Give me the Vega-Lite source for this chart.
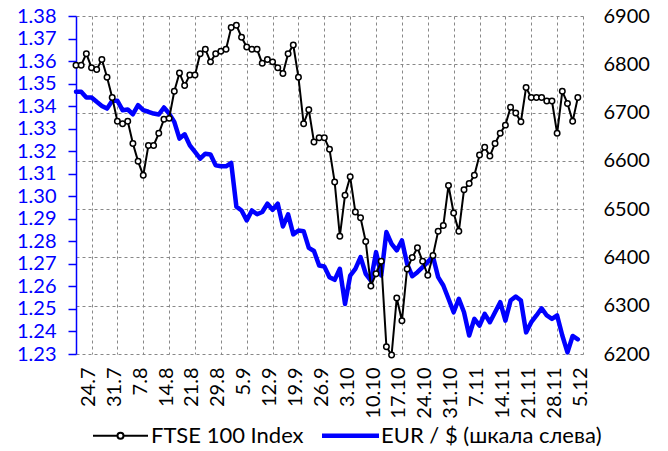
{
  "$schema": "https://vega.github.io/schema/vega-lite/v6.json",
  "width": 507,
  "height": 338,
  "autosize": {"type": "none"},
  "padding": {"left": 76, "top": 16, "right": 85, "bottom": 97},
  "background": "white",
  "config": {
    "font": "Lato",
    "view": {"stroke": null},
    "axis": {"labelFont": "Lato", "labelFontSize": 20, "title": null}
  },
  "data": {"values": [
    {"d":"21.7","ftse":6798,"eur":1.3464},
    {"d":"22.7","ftse":6798,"eur":1.3464},
    {"d":"23.7","ftse":6822,"eur":1.3438},
    {"d":"24.7","ftse":6793,"eur":1.3438},
    {"d":"25.7","ftse":6789,"eur":1.3419},
    {"d":"28.7","ftse":6810,"eur":1.3401},
    {"d":"29.7","ftse":6773,"eur":1.3389},
    {"d":"30.7","ftse":6731,"eur":1.3424},
    {"d":"31.7","ftse":6682,"eur":1.3424},
    {"d":"1.8","ftse":6677,"eur":1.3382},
    {"d":"4.8","ftse":6682,"eur":1.3385},
    {"d":"5.8","ftse":6636,"eur":1.3364},
    {"d":"6.8","ftse":6599,"eur":1.3404},
    {"d":"7.8","ftse":6570,"eur":1.3382},
    {"d":"8.8","ftse":6632,"eur":1.3375},
    {"d":"11.8","ftse":6632,"eur":1.3367},
    {"d":"12.8","ftse":6657,"eur":1.3363},
    {"d":"13.8","ftse":6686,"eur":1.3394},
    {"d":"14.8","ftse":6688,"eur":1.3367},
    {"d":"15.8","ftse":6744,"eur":1.3330},
    {"d":"18.8","ftse":6782,"eur":1.3256},
    {"d":"19.8","ftse":6756,"eur":1.3275},
    {"d":"20.8","ftse":6778,"eur":1.3226},
    {"d":"21.8","ftse":6778,"eur":1.3197},
    {"d":"22.8","ftse":6822,"eur":1.3167},
    {"d":"26.8","ftse":6831,"eur":1.3189},
    {"d":"27.8","ftse":6805,"eur":1.3185},
    {"d":"28.8","ftse":6822,"eur":1.3137},
    {"d":"29.8","ftse":6827,"eur":1.3133},
    {"d":"1.9","ftse":6831,"eur":1.3133},
    {"d":"2.9","ftse":6876,"eur":1.3148},
    {"d":"3.9","ftse":6881,"eur":1.2954},
    {"d":"4.9","ftse":6856,"eur":1.2937},
    {"d":"5.9","ftse":6836,"eur":1.2893},
    {"d":"8.9","ftse":6831,"eur":1.2937},
    {"d":"9.9","ftse":6831,"eur":1.2920},
    {"d":"10.9","ftse":6802,"eur":1.2930},
    {"d":"11.9","ftse":6810,"eur":1.2967},
    {"d":"12.9","ftse":6805,"eur":1.2940},
    {"d":"15.9","ftse":6793,"eur":1.2967},
    {"d":"16.9","ftse":6781,"eur":1.2866},
    {"d":"17.9","ftse":6822,"eur":1.2920},
    {"d":"18.9","ftse":6840,"eur":1.2831},
    {"d":"19.9","ftse":6773,"eur":1.2848},
    {"d":"22.9","ftse":6677,"eur":1.2845},
    {"d":"23.9","ftse":6706,"eur":1.2771},
    {"d":"24.9","ftse":6639,"eur":1.2757},
    {"d":"25.9","ftse":6648,"eur":1.2693},
    {"d":"26.9","ftse":6648,"eur":1.2688},
    {"d":"29.9","ftse":6624,"eur":1.2641},
    {"d":"30.9","ftse":6556,"eur":1.2629},
    {"d":"1.10","ftse":6444,"eur":1.2678},
    {"d":"2.10","ftse":6529,"eur":1.2522},
    {"d":"3.10","ftse":6567,"eur":1.2648},
    {"d":"6.10","ftse":6494,"eur":1.2678},
    {"d":"7.10","ftse":6482,"eur":1.2730},
    {"d":"8.10","ftse":6433,"eur":1.2656},
    {"d":"9.10","ftse":6341,"eur":1.2626},
    {"d":"10.10","ftse":6366,"eur":1.2752},
    {"d":"13.10","ftse":6392,"eur":1.2648},
    {"d":"14.10","ftse":6215,"eur":1.2841},
    {"d":"15.10","ftse":6198,"eur":1.2789},
    {"d":"16.10","ftse":6316,"eur":1.2760},
    {"d":"17.10","ftse":6269,"eur":1.2804},
    {"d":"20.10","ftse":6376,"eur":1.2700},
    {"d":"21.10","ftse":6400,"eur":1.2645},
    {"d":"22.10","ftse":6420,"eur":1.2663},
    {"d":"23.10","ftse":6392,"eur":1.2685},
    {"d":"24.10","ftse":6363,"eur":1.2709},
    {"d":"27.10","ftse":6404,"eur":1.2733},
    {"d":"28.10","ftse":6454,"eur":1.2641},
    {"d":"29.10","ftse":6466,"eur":1.2604},
    {"d":"30.10","ftse":6549,"eur":1.2545},
    {"d":"31.10","ftse":6492,"eur":1.2485},
    {"d":"3.11","ftse":6454,"eur":1.2545},
    {"d":"4.11","ftse":6540,"eur":1.2485},
    {"d":"5.11","ftse":6553,"eur":1.2382},
    {"d":"6.11","ftse":6570,"eur":1.2456},
    {"d":"7.11","ftse":6612,"eur":1.2426},
    {"d":"10.11","ftse":6628,"eur":1.2478},
    {"d":"11.11","ftse":6610,"eur":1.2441},
    {"d":"12.11","ftse":6636,"eur":1.2485},
    {"d":"13.11","ftse":6657,"eur":1.2530},
    {"d":"14.11","ftse":6674,"eur":1.2448},
    {"d":"17.11","ftse":6711,"eur":1.2537},
    {"d":"18.11","ftse":6699,"eur":1.2555},
    {"d":"19.11","ftse":6681,"eur":1.2537},
    {"d":"20.11","ftse":6752,"eur":1.2396},
    {"d":"21.11","ftse":6731,"eur":1.2441},
    {"d":"24.11","ftse":6731,"eur":1.2471},
    {"d":"25.11","ftse":6731,"eur":1.2503},
    {"d":"26.11","ftse":6724,"eur":1.2471},
    {"d":"27.11","ftse":6724,"eur":1.2456},
    {"d":"28.11","ftse":6657,"eur":1.2471},
    {"d":"1.12","ftse":6744,"eur":1.2382},
    {"d":"2.12","ftse":6719,"eur":1.2307},
    {"d":"3.12","ftse":6682,"eur":1.2380},
    {"d":"4.12","ftse":6731,"eur":1.2365},
    {"d":"5.12","ftse":null,"eur":null}
  ]},
  "encoding": {
    "x": {
      "field": "d",
      "type": "ordinal",
      "sort": null,
      "scale": {
        "type": "point",
        "padding": 0,
        "domain": ["21.7","22.7","23.7","24.7","25.7","28.7","29.7","30.7","31.7","1.8","4.8","5.8","6.8","7.8","8.8","11.8","12.8","13.8","14.8","15.8","18.8","19.8","20.8","21.8","22.8","26.8","27.8","28.8","29.8","1.9","2.9","3.9","4.9","5.9","8.9","9.9","10.9","11.9","12.9","15.9","16.9","17.9","18.9","19.9","22.9","23.9","24.9","25.9","26.9","29.9","30.9","1.10","2.10","3.10","6.10","7.10","8.10","9.10","10.10","13.10","14.10","15.10","16.10","17.10","20.10","21.10","22.10","23.10","24.10","27.10","28.10","29.10","30.10","31.10","3.11","4.11","5.11","6.11","7.11","10.11","11.11","12.11","13.11","14.11","17.11","18.11","19.11","20.11","21.11","24.11","25.11","26.11","27.11","28.11","1.12","2.12","3.12","4.12","5.12"]
      },
      "axis": {
        "values": ["24.7","31.7","7.8","14.8","21.8","29.8","5.9","12.9","19.9","26.9","3.10","10.10","17.10","24.10","31.10","7.11","14.11","21.11","28.11","5.12"],
        "labelAngle": 270,
        "labelAlign": "right",
        "labelBaseline": "middle",
        "labelOffset": -3,
        "labelPadding": 13,
        "labelColor": "black",
        "labelOverlap": false,
        "domain": false,
        "ticks": false,
        "tickSize": 0,
        "grid": true,
        "gridColor": "#888888",
        "gridDash": [3, 3],
        "gridWidth": 1
      }
    }
  },
  "layer": [
    {
      "mark": {"type": "line", "strokeWidth": 4.5, "strokeCap": "round", "strokeJoin": "round"},
      "encoding": {
        "y": {
          "field": "eur",
          "type": "quantitative",
          "scale": {"domain": [1.23, 1.38], "nice": false, "zero": false},
          "axis": {
            "orient": "left",
            "values": [1.23,1.24,1.25,1.26,1.27,1.28,1.29,1.30,1.31,1.32,1.33,1.34,1.35,1.36,1.37,1.38],
            "format": ".2f",
            "grid": false,
            "domain": true,
            "domainColor": "#0000ff",
            "domainWidth": 1.5,
            "ticks": true,
            "tickColor": "#0000ff",
            "tickSize": 8,
            "tickWidth": 1.5,
            "labelColor": "#0000ff",
            "labelPadding": 12,
            "labelBaseline": "middle"
          }
        },
        "color": {
          "datum": "EUR / $ (шкала слева)",
          "type": "nominal",
          "scale": {"domain": ["FTSE 100 Index", "EUR / $ (шкала слева)"], "range": ["black", "#0000ff"]},
          "legend": {
            "orient": "none",
            "legendX": 16,
            "legendY": 391,
            "direction": "horizontal",
            "columns": 2,
            "title": null,
            "padding": 0,
            "symbolSize": 3025,
            "symbolStrokeWidth": 2,
            "labelFont": "Lato",
            "labelFontSize": 22,
            "labelColor": "black",
            "labelLimit": 400,
            "labelOffset": 2,
            "columnPadding": 15,
            "encode": {
              "symbols": {
                "update": {
                  "shape": {"signal": "datum.value === 'FTSE 100 Index' ? 'M-1,0H-0.11M0.11,0H1M-0.11,0A0.11,0.11,0,1,1,0.11,0A0.11,0.11,0,1,1,-0.11,0Z' : 'M-1,-0.045H1V0.045H-1Z'"},
                  "stroke": {"signal": "datum.value === 'FTSE 100 Index' ? 'black' : '#0000ff'"},
                  "fill": {"signal": "datum.value === 'FTSE 100 Index' ? 'white' : '#0000ff'"},
                  "fillOpacity": {"value": 1},
                  "strokeOpacity": {"value": 1}
                }
              }
            }
          }
        }
      }
    },
    {
      "mark": {
        "type": "line",
        "strokeWidth": 2,
        "point": {"filled": false, "fill": "white", "stroke": "black", "strokeWidth": 1.5, "size": 30}
      },
      "encoding": {
        "y": {
          "field": "ftse",
          "type": "quantitative",
          "scale": {"domain": [6200, 6900], "nice": false, "zero": false},
          "axis": {
            "orient": "right",
            "values": [6200,6300,6400,6500,6600,6700,6800,6900],
            "format": "d",
            "grid": true,
            "gridColor": "#888888",
            "gridDash": [3, 3],
            "gridWidth": 1,
            "domain": false,
            "ticks": false,
            "tickSize": 0,
            "labelColor": "black",
            "labelPadding": 20,
            "labelBaseline": "middle"
          }
        },
        "color": {"datum": "FTSE 100 Index", "type": "nominal"}
      }
    }
  ],
  "resolve": {"scale": {"y": "independent"}}
}
